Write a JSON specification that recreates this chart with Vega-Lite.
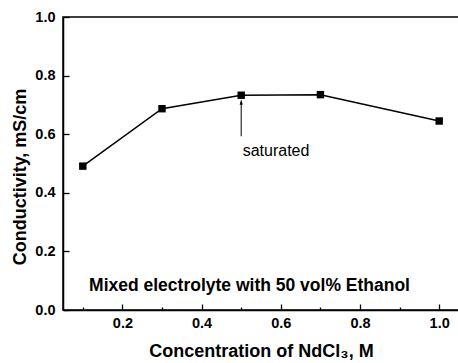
{
  "$schema": "https://vega.github.io/schema/vega-lite/v6.json",
  "autosize": {"type": "none"},
  "padding": {"left": 63, "top": 17, "right": 0, "bottom": 53},
  "width": 396,
  "height": 293,
  "background": "white",
  "config": {
    "view": {"stroke": "black", "strokeWidth": 1.5},
    "font": "Liberation Sans",
    "axis": {
      "domainColor": "black",
      "domainWidth": 1.5,
      "tickColor": "black",
      "tickWidth": 1.3,
      "grid": false,
      "labelFont": "Liberation Sans",
      "labelFontWeight": "bold",
      "labelFontSize": 14.5,
      "labelColor": "black",
      "titleFont": "Liberation Sans",
      "titleFontWeight": "bold",
      "titleFontSize": 18,
      "titleColor": "black"
    }
  },
  "datasets": {
    "points": [
      {"conc": 0.1, "cond": 0.491},
      {"conc": 0.3, "cond": 0.687},
      {"conc": 0.5, "cond": 0.733},
      {"conc": 0.7, "cond": 0.735},
      {"conc": 1.0, "cond": 0.645}
    ],
    "notes": [
      {"x": 0.521, "y": 0.065, "label": "Mixed electrolyte with 50 vol% Ethanol", "kind": "bold"},
      {"x": 0.588, "y": 0.525, "label": "saturated", "kind": "normal"}
    ],
    "arrow": [
      {"x": 0.5, "y1": 0.593, "y2": 0.71}
    ]
  },
  "layer": [
    {
      "data": {"name": "points"},
      "mark": {"type": "line", "color": "black", "strokeWidth": 1.5},
      "encoding": {
        "x": {
          "field": "conc", "type": "quantitative",
          "scale": {"domain": [0.05, 1.05], "nice": false, "zero": false},
          "axis": {
            "values": [0.1, 0.2, 0.3, 0.4, 0.5, 0.6, 0.7, 0.8, 0.9, 1.0],
            "labelExpr": "round(datum.value*10)%2==0 ? format(datum.value, '.1f') : ''",
            "tickSize": {"condition": {"test": "round(datum.value*10)%2==0", "value": -6}, "value": -3},
            "labelPadding": 12,
            "title": "Concentration of NdCl₃, M",
            "titleX": 198,
            "titleY": 46,
            "titleBaseline": "alphabetic",
            "titleAlign": "center"
          }
        },
        "y": {
          "field": "cond", "type": "quantitative",
          "scale": {"domain": [0, 1], "nice": false},
          "axis": {
            "values": [0, 0.1, 0.2, 0.3, 0.4, 0.5, 0.6, 0.7, 0.8, 0.9, 1.0],
            "labelExpr": "round(datum.value*10)%2==0 ? format(datum.value, '.1f') : ''",
            "tickSize": {"condition": {"test": "round(datum.value*10)%2==0", "value": -6}, "value": -3},
            "labelPadding": 14,
            "title": "Conductivity, mS/cm",
            "titleAngle": -90,
            "titleX": -38,
            "titleY": 159.5,
            "titleBaseline": "alphabetic",
            "titleAlign": "center"
          }
        }
      }
    },
    {
      "data": {"name": "points"},
      "mark": {"type": "point", "shape": "square", "filled": true, "color": "black", "opacity": 1, "size": 55},
      "encoding": {
        "x": {"field": "conc", "type": "quantitative"},
        "y": {"field": "cond", "type": "quantitative"}
      }
    },
    {
      "data": {"name": "arrow"},
      "mark": {"type": "rule", "color": "black", "strokeWidth": 1},
      "encoding": {
        "x": {"field": "x", "type": "quantitative"},
        "y": {"field": "y1", "type": "quantitative"},
        "y2": {"field": "y2"}
      }
    },
    {
      "data": {"name": "arrow"},
      "mark": {"type": "point", "shape": "M0,-1L0.55,1L-0.55,1Z", "filled": true, "color": "black", "opacity": 1, "size": 30},
      "encoding": {
        "x": {"field": "x", "type": "quantitative"},
        "y": {"field": "y2", "type": "quantitative"}
      }
    },
    {
      "data": {"name": "notes"},
      "transform": [{"filter": "datum.kind == 'bold'"}],
      "mark": {"type": "text", "font": "Liberation Sans", "fontWeight": "bold", "fontSize": 17.5, "color": "black", "align": "center", "baseline": "alphabetic"},
      "encoding": {
        "x": {"field": "x", "type": "quantitative"},
        "y": {"field": "y", "type": "quantitative"},
        "text": {"field": "label"}
      }
    },
    {
      "data": {"name": "notes"},
      "transform": [{"filter": "datum.kind == 'normal'"}],
      "mark": {"type": "text", "font": "Liberation Sans", "fontSize": 16, "color": "black", "align": "center", "baseline": "alphabetic"},
      "encoding": {
        "x": {"field": "x", "type": "quantitative"},
        "y": {"field": "y", "type": "quantitative"},
        "text": {"field": "label"}
      }
    }
  ]
}
